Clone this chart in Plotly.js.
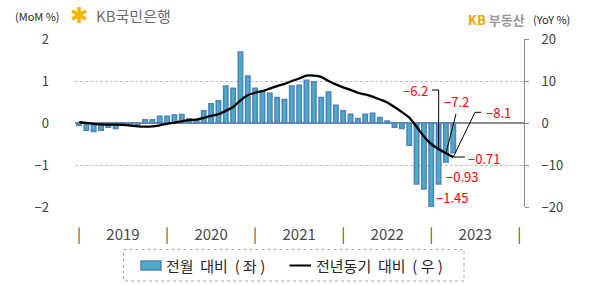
<!DOCTYPE html>
<html>
<head>
<meta charset="utf-8">
<script src="https://cdn.plot.ly/plotly-3.0.1.min.js"></script>
<style>html,body{margin:0;padding:0;background:#fff;}#chart{width:590px;height:285px;}</style>
</head>
<body>
<div id="chart"></div>
<script>
// ---- data ----
const months = [
  "2019-01","2019-02","2019-03","2019-04","2019-05","2019-06","2019-07","2019-08","2019-09","2019-10","2019-11","2019-12",
  "2020-01","2020-02","2020-03","2020-04","2020-05","2020-06","2020-07","2020-08","2020-09","2020-10","2020-11","2020-12",
  "2021-01","2021-02","2021-03","2021-04","2021-05","2021-06","2021-07","2021-08","2021-09","2021-10","2021-11","2021-12",
  "2022-01","2022-02","2022-03","2022-04","2022-05","2022-06","2022-07","2022-08","2022-09","2022-10","2022-11","2022-12",
  "2023-01","2023-02","2023-03","2023-04"
];
// 전월 대비 (MoM %, left axis)
const mom = [
  -0.06,-0.17,-0.20,-0.17,-0.10,-0.13,-0.04,-0.04,-0.05,0.08,0.08,0.16,
  0.16,0.19,0.20,0.10,0.08,0.29,0.46,0.53,0.88,0.83,1.69,1.12,
  0.83,0.76,0.71,0.61,0.56,0.88,0.90,1.02,0.98,0.61,0.74,0.42,
  0.29,0.21,0.11,0.21,0.23,0.13,0.05,-0.10,-0.13,-0.53,-1.45,-1.57,
  -2.00,-1.45,-0.93,-0.71
];
// 전년동기 대비 (YoY %, right axis)
const yoy = [
  0.2,0.0,-0.2,-0.35,-0.4,-0.4,-0.45,-0.6,-0.8,-0.85,-0.8,-0.55,
  -0.2,0.1,0.4,0.7,0.8,1.2,1.7,2.1,2.9,3.8,5.4,6.6,
  7.2,7.6,8.2,8.8,9.3,10.0,10.6,11.3,11.3,11.0,10.0,9.2,
  8.5,7.9,7.2,6.8,6.3,5.6,4.9,3.8,2.6,1.3,-0.9,-3.2,
  -5.0,-6.2,-7.2,-8.1
];
const yearLabels = ["2019","2020","2021","2022","2023"];
const legendNames = ["전월 대비 (좌)", "전년동기 대비 (우)"];

// ---- layout geometry ----
const W = 590, H = 285;
const M = {l:75, r:66, t:39, b:78};
const PW = W - M.l - M.r, PH = H - M.t - M.b;
const XR = [-0.545, 60.64];
const px2x = p => XR[0] + (p - M.l) / PW * (XR[1] - XR[0]);
const py2y2 = p => 20 - (p - M.t) / PH * 40;
const pxP = p => (p - M.l) / PW;
const pyP = p => (H - M.b - p) / PH;

const idx = months.map((m, i) => i);
const tickvals = [], ticktext = [];
yearLabels.forEach((y, k) => {
  tickvals.push(k * 12); ticktext.push("|");
  tickvals.push(k * 12 + 6); ticktext.push(y);
});
tickvals.push(yearLabels.length * 12); ticktext.push("|");

const FONT = "Noto Sans CJK KR, Noto Sans, sans-serif";
const fmt = (v, d) => v.toFixed(d).replace("-", "\u2212");
const n = months.length;
const RED = "#ff0000";
const spaced = s => s.replace(/ /g, "\u00a0\u00a0").replace("(", "(\u00a0").replace(")", "\u00a0)");

const traces = [
  {
    type: "bar", x: idx, y: mom, name: legendNames[0], yaxis: "y",
    width: 0.6,
    marker: {color: "#4bacc6", line: {color: "#4f81bd", width: 1.5}},
    showlegend: false, hoverinfo: "skip"
  },
  {
    type: "scatter", mode: "lines", x: idx, y: yoy, name: legendNames[1], yaxis: "y2",
    line: {color: "#000000", width: 2.3, shape: "spline", smoothing: 0.6},
    showlegend: false, hoverinfo: "skip"
  }
];

// leader lines for YoY labels (point end from data, label end from pixel layout)
const i1 = n - 3, i2 = n - 2, i3 = n - 1;
const shapes = [
  {type: "path", xref: "x", yref: "y2",
   path: `M ${px2x(432)},${py2y2(90)} L ${px2x(438.7)},${py2y2(90)} L ${idx[i1]},${yoy[i1]}`,
   line: {color: "#000", width: 1}},
  {type: "path", xref: "x", yref: "y2",
   path: `M ${px2x(456)},${py2y2(114)} L ${idx[i2]},${yoy[i2]}`,
   line: {color: "#000", width: 1}},
  {type: "path", xref: "x", yref: "y2",
   path: `M ${px2x(481)},${py2y2(112.3)} L ${px2x(475)},${py2y2(112.3)} L ${idx[i3]},${yoy[i3]}`,
   line: {color: "#000", width: 1}},
  {type: "path", xref: "x", yref: "y2",
   path: `M ${idx[i3]},${yoy[i3]} L ${px2x(465)},${yoy[i3]}`,
   line: {color: "#000", width: 1}},
  // legend box
  {type: "rect", xref: "paper", yref: "paper",
   x0: pxP(123.5), x1: pxP(464), y0: pyP(249.5), y1: pyP(281),
   line: {color: "#a6a6a6", width: 1, dash: "dot"}, fillcolor: "rgba(0,0,0,0)"},
  // legend swatches
  {type: "rect", xref: "paper", yref: "paper",
   x0: pxP(141), x1: pxP(161), y0: pyP(270), y1: pyP(261),
   line: {color: "#4f81bd", width: 1.5}, fillcolor: "#4bacc6"},
  {type: "line", xref: "paper", yref: "paper",
   x0: pxP(289.5), x1: pxP(311), y0: pyP(265.5), y1: pyP(265.5),
   line: {color: "#000", width: 2}}
];

const ann = (text, px, py, opts) => Object.assign({
  text: text, xref: "paper", yref: "paper", x: pxP(px), y: pyP(py),
  xanchor: "left", yanchor: "middle", showarrow: false,
  font: {family: FONT, size: 13, color: RED}
}, opts || {});

const annotations = [
  ann(fmt(yoy[i1], 1), 430, 90, {xanchor: "right"}),
  ann(fmt(yoy[i2], 1), 442, 101.7),
  ann(fmt(yoy[i3], 1), 484, 112.3),
  ann(fmt(mom[i3], 2), 466, 158.3),
  ann(fmt(mom[i2], 2), 444, 176),
  ann(fmt(mom[i1], 2), 434, 197.7),
  // header texts
  ann("(MoM %)", 13, 15.5, {font: {family: FONT, size: 11, color: "#262626"}}),
  ann("\u2731", 68, 15, {font: {family: "DejaVu Sans", size: 22, color: "#f5b400"}}),
  ann("KB국민은행", 94, 15, {font: {family: FONT, size: 15, color: "#6b6b6b"}}),
  ann("<b><span style='color:#f5a300'>KB</span> 부동산</b>", 466, 19.5, {font: {family: FONT, size: 13, color: "#9a9a9a"}}),
  ann("(YoY %)", 531, 19.5, {font: {family: FONT, size: 11, color: "#262626"}}),
  // legend texts
  ann(spaced(legendNames[0]), 164, 265, {font: {family: FONT, size: 15, color: "#262626"}}),
  ann(spaced(legendNames[1]), 314, 265, {font: {family: FONT, size: 15, color: "#262626"}})
];

const layout = {
  width: W, height: H, autosize: false,
  margin: M,
  paper_bgcolor: "#fff", plot_bgcolor: "#fff",
  font: {family: FONT, color: "#404040"},
  bargap: 0,
  xaxis: {
    range: XR, tickvals: tickvals, ticktext: ticktext,
    showgrid: false, zeroline: false, showline: false, ticks: "",
    tickfont: {family: FONT, size: 15, color: "#4a4a4a"},
    ticklabelstandoff: 17, fixedrange: true
  },
  yaxis: {
    range: [-2, 2], dtick: 1, tick0: 0,
    showgrid: true, gridcolor: "#bfbfbf", griddash: "3px,2px", gridwidth: 1,
    zeroline: true, zerolinecolor: "#8c8c8c", zerolinewidth: 1.2,
    showline: false, ticks: "",
    tickfont: {family: FONT, size: 13, color: "#404040"},
    ticklabelstandoff: 25
  },
  yaxis2: {
    overlaying: "y", side: "right", range: [-20, 20], dtick: 10, tick0: 0,
    showgrid: false, zeroline: false,
    showline: true, linecolor: "#8c8c8c", linewidth: 1,
    ticks: "outside", ticklen: 4, tickcolor: "#8c8c8c",
    tickfont: {family: FONT, size: 13, color: "#404040"},
    ticklabelstandoff: 10
  },
  shapes: shapes,
  annotations: annotations,
  showlegend: false
};

Plotly.newPlot("chart", traces, layout, {staticPlot: true, displayModeBar: false});
</script>
</body>
</html>
